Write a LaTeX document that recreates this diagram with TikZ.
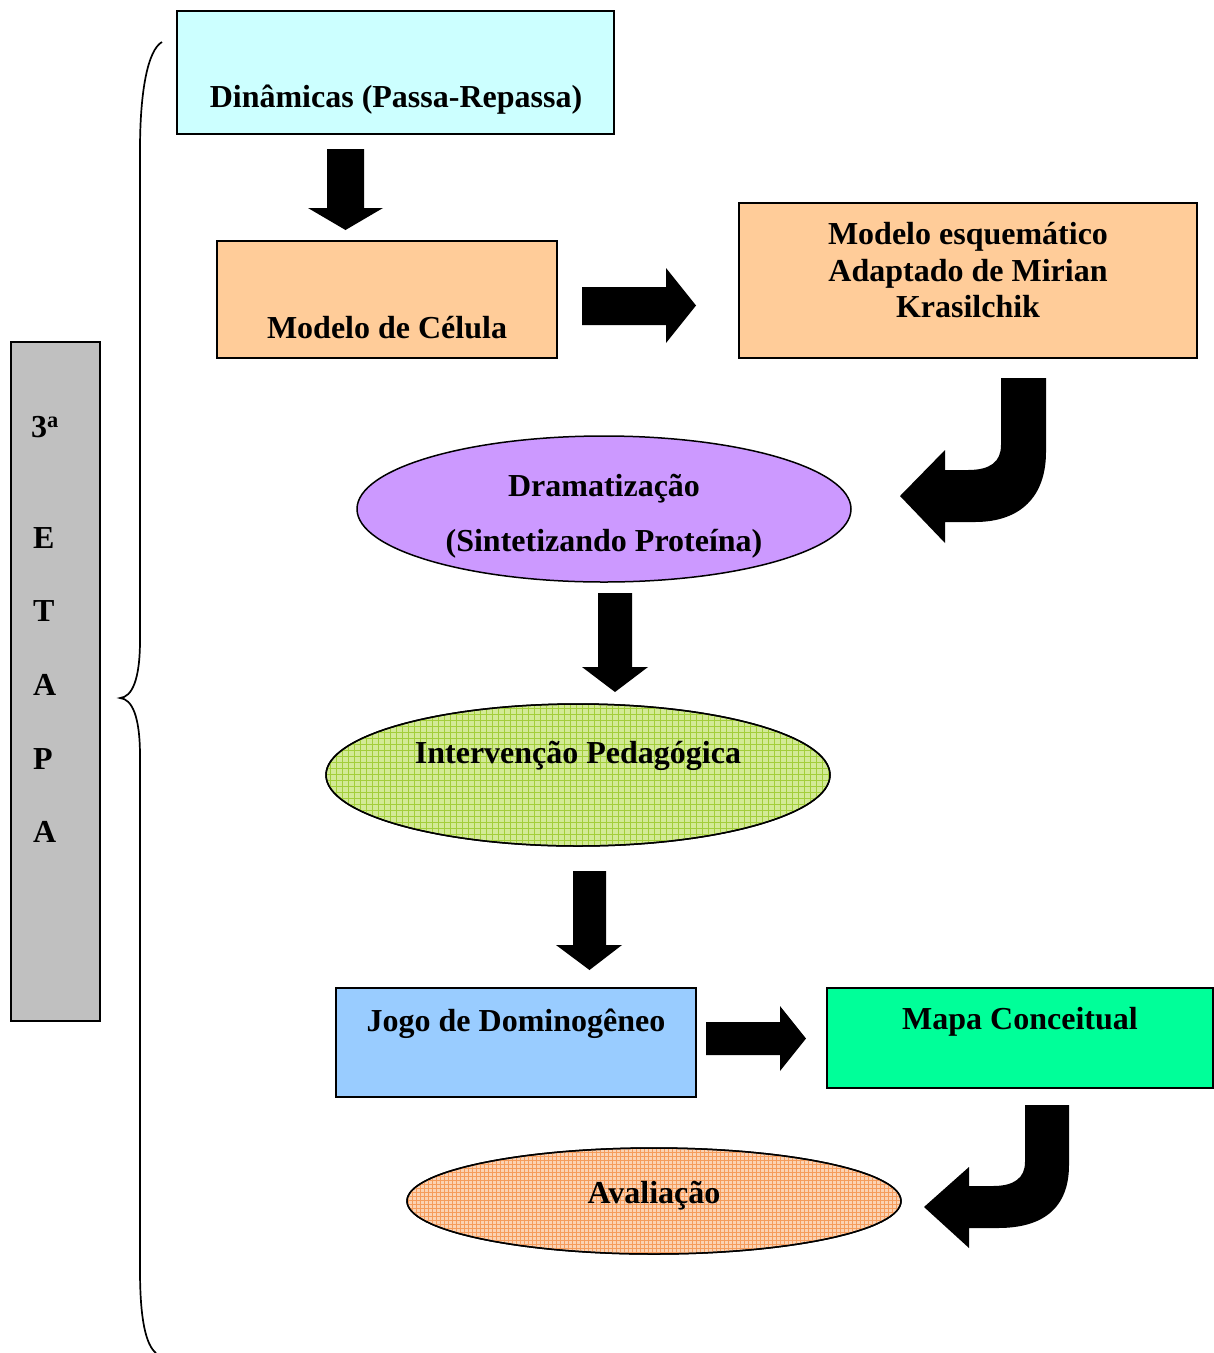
\documentclass[tikz,border=0pt]{standalone}
\usepackage{fontspec}
\setmainfont{Liberation Serif}
\usetikzlibrary{shapes.geometric}
\definecolor{cyanbox}{HTML}{CCFFFF}
\definecolor{peach}{HTML}{FFCC99}
\definecolor{lilac}{HTML}{CC99FF}
\definecolor{skyblue}{HTML}{99CCFF}
\definecolor{mint}{HTML}{00FF99}
\definecolor{greybar}{HTML}{C0C0C0}
\definecolor{greenbase}{HTML}{D3EA96}
\definecolor{greengrid}{HTML}{A3CE3A}
\definecolor{orangebase}{HTML}{FBD3B4}
\definecolor{orangegrid}{HTML}{F59C5C}
\tikzset{
  boxshape/.style={draw=black, line width=1.5pt, inner sep=0pt},
  ovalshape/.style={ellipse, draw=black, line width=1.5pt, inner sep=0pt},
  label/.style={font=\fontsize{32}{37}\selectfont\bfseries, anchor=base, align=center, inner sep=0pt},
  blockarrow/.style={fill=black, draw=none},
}
\begin{document}
\begin{tikzpicture}[x=1pt,y=-1pt]
\useasboundingbox (0,0) rectangle (1214,1353);

% boxes
\node[boxshape, fill=cyanbox, minimum width=437pt, minimum height=123pt] (din) at (395.5,72.5) {};
\node[boxshape, fill=peach, minimum width=340pt, minimum height=117pt] (cel) at (387,299.5) {};
\node[boxshape, fill=peach, minimum width=458pt, minimum height=155pt] (esq) at (968,280.5) {};
\node[boxshape, fill=skyblue, minimum width=360pt, minimum height=109pt] (jogo) at (516,1042.5) {};
\node[boxshape, fill=mint, minimum width=386pt, minimum height=100pt] (mapa) at (1020,1038) {};
\node[boxshape, fill=greybar, minimum width=89pt, minimum height=679pt] (etapa) at (55.5,681.5) {};

% ovals
\node[ovalshape, fill=lilac, minimum width=494pt, minimum height=146pt] (dram) at (604,509) {};

\node[ovalshape, fill=greenbase, minimum width=504pt, minimum height=142pt] (interv) at (578,775) {};
\begin{scope}
  \clip (578,775) ellipse [x radius=251pt, y radius=70pt];
  \draw[greengrid, line width=0.9pt, step=6pt] (320,700) grid (840,850);
\end{scope}
\draw[line width=1.5pt] (578,775) ellipse [x radius=252pt, y radius=71pt];

\node[ovalshape, fill=orangebase, minimum width=494pt, minimum height=106pt] (aval) at (654,1201) {};
\begin{scope}
  \clip (654,1201) ellipse [x radius=246pt, y radius=52pt];
  \draw[orangegrid, line width=0.7pt, step=4pt] (400,1144) grid (904,1258);
\end{scope}
\draw[line width=1.5pt] (654,1201) ellipse [x radius=247pt, y radius=53pt];

% texts
\node[label] (tdin) at (396,107) {Dinâmicas (Passa-Repassa)};
\node[label] (tcel) at (387,338) {Modelo de Célula};
\node[label] (tesq1) at (968,244) {Modelo esquemático};
\node[label] (tesq2) at (968,281) {Adaptado de Mirian};
\node[label] (tesq3) at (968,317) {Krasilchik};
\node[label] (tdram1) at (604,496) {Dramatização};
\node[label] (tdram2) at (604,551) {(Sintetizando Proteína)};
\node[label] (tint) at (578,763) {Intervenção Pedagógica};
\node[label] (tjogo) at (516,1031) {Jogo de Dominogêneo};
\node[label] (tmapa) at (1020,1029) {Mapa Conceitual};
\node[label] (taval) at (654,1203) {Avaliação};

% vertical word in the grey bar
\node[label, anchor=base west] (t3a) at (31,437) {3\textsuperscript{a}};
\node[label, anchor=base west] (tE) at (33,548) {E};
\node[label, anchor=base west] (tT) at (33,621) {T};
\node[label, anchor=base west] (tA1) at (33,695) {A};
\node[label, anchor=base west] (tP) at (33,769) {P};
\node[label, anchor=base west] (tA2) at (33,842) {A};

% straight block arrows
\fill[blockarrow] (327,149) -- (364,149) -- (364,208) -- (383,208) -- (345.5,230) -- (308,208) -- (327,208) -- cycle;
\fill[blockarrow] (582,287) -- (666,287) -- (666,268) -- (696,305.5) -- (666,343) -- (666,325) -- (582,325) -- cycle;
\fill[blockarrow] (598,593) -- (632,593) -- (632,667) -- (648,667) -- (615,692) -- (582,667) -- (598,667) -- cycle;
\fill[blockarrow] (573,871) -- (606,871) -- (606,945) -- (622,945) -- (589.5,970) -- (556,945) -- (573,945) -- cycle;
\fill[blockarrow] (706,1022) -- (780,1022) -- (780,1006) -- (806,1038.5) -- (780,1071) -- (780,1055) -- (706,1055) -- cycle;

% bent block arrows
\fill[blockarrow] (1001,378) -- (1046,378) -- (1046,452)
  .. controls (1046,497) and (1020,522) .. (975,522) -- (945,522) -- (945,543) -- (900,496)
  -- (945,450) -- (945,470) -- (968,470)
  .. controls (990,470) and (1001,462) .. (1001,445) -- cycle;
\fill[blockarrow] (1025,1105) -- (1069,1105) -- (1069,1165)
  .. controls (1069,1208) and (1043,1228) .. (998,1228) -- (969,1228) -- (969,1248) -- (924,1207)
  -- (969,1167) -- (969,1186) -- (993,1186)
  .. controls (1014,1186) and (1025,1178) .. (1025,1162) -- cycle;

% brace grouping the stage
\draw[line width=1.7pt] (162,42) .. controls (148,50) and (140,90) .. (140,150) -- (140,640)
  .. controls (140,680) and (132,697) .. (120,698)
  .. controls (132,699) and (140,716) .. (140,756) -- (140,1270)
  .. controls (140,1320) and (146,1345) .. (156,1353);
\end{tikzpicture}
\end{document}
